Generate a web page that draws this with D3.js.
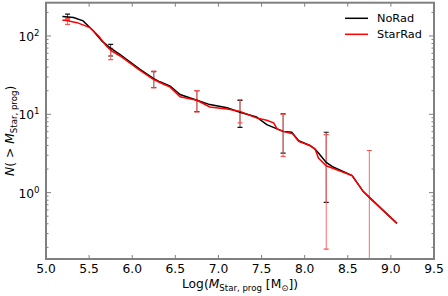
<!DOCTYPE html>
<html>
<head>
<meta charset="utf-8">
<script src="https://cdn.jsdelivr.net/npm/d3@7"></script>
<style>
  body { margin: 0; background: #fff; }
  text { font-family: "DejaVu Sans", sans-serif; fill: #000; }
</style>
</head>
<body>
<div id="chart"></div>
<script>
// cumulative counts, NoRad run
var noRadMass = [5.19, 5.32, 5.43, 5.55, 5.65, 5.74, 5.86, 6.09, 6.245, 6.32, 6.44, 6.555, 6.75, 6.9, 7.1, 7.25, 7.44, 7.56, 7.75, 7.85, 7.93, 8.06, 8.12, 8.16, 8.25, 8.33, 8.55, 8.68, 8.75, 9.07];
var noRadN    = [177, 172, 156, 116, 86, 71, 58, 37.4, 28.7, 26, 22.9, 17.9, 15.1, 13.3, 12.1, 10.6, 9.26, 7.38, 6.05, 5.9, 4.6, 4.0, 3.6, 3.2, 2.43, 2.12, 1.65, 1.03, 0.87, 0.405];

// cumulative counts, StarRad run
var starRadMass = [5.19, 5.22, 5.36, 5.51, 5.61, 5.70, 5.76, 5.86, 6.09, 6.245, 6.32, 6.44, 6.555, 6.75, 6.9, 7.1, 7.25, 7.44, 7.56, 7.64, 7.68, 7.75, 7.86, 7.93, 8.06, 8.12, 8.16, 8.25, 8.55, 8.68, 8.75, 9.07];
var starRadN    = [159, 159, 148, 128, 100, 74.5, 64.5, 55.5, 36.3, 28, 25.5, 22.2, 16.7, 15.1, 12.4, 11.7, 10.9, 9.0, 8.4, 7.76, 6.5, 6.05, 5.66, 4.5, 4.0, 3.6, 2.76, 2.2, 1.65, 1.03, 0.87, 0.405];

// error bars at the bin centres
var errMass   = [5.25, 5.75, 6.25, 6.75, 7.25, 7.75, 8.25];
var noRadLo   = [160, 55.5, 22, 10.8, 6.8, 3.2, 0.75];
var noRadHi   = [190, 78, 35, 20, 15, 10.1, 5.9];
var errMassSR = [5.25, 5.75, 6.25, 6.75, 7.25, 7.75, 8.25, 8.75];
var starRadLo = [141, 50, 21.8, 10.7, 7.76, 2.9, 0.19, 0.01];
var starRadHi = [168, 69.5, 35.6, 20, 15.4, 10, 5.5, 3.45];

var xTicks = [5.0, 5.5, 6.0, 6.5, 7.0, 7.5, 8.0, 8.5, 9.0, 9.5];
var yTicks = [1, 10, 100];

var W = 448, H = 296;
var pl = 46, pr = 434, pt = 2.7, pb = 259;

var svg = d3.select("#chart").append("svg")
    .attr("width", W)
    .attr("height", H);

var x = d3.scaleLinear().domain([5.0, 9.5]).range([pl, pr]);
var y = d3.scaleLog().domain([0.142, 266]).range([pb, pt]);

svg.append("clipPath").attr("id", "clip")
    .append("rect")
    .attr("x", pl).attr("y", pt)
    .attr("width", pr - pl).attr("height", pb - pt);

var plot = svg.append("g").attr("clip-path", "url(#clip)");

// error bars
function drawBars(ms, lo, hi, color, capColor) {
    var g = plot.append("g");
    ms.forEach(function (m, i) {
        g.append("line")
            .attr("x1", x(m)).attr("x2", x(m))
            .attr("y1", y(lo[i])).attr("y2", y(hi[i]))
            .style("stroke", color).style("stroke-width", 1);
        [lo[i], hi[i]].forEach(function (v) {
            g.append("line")
                .attr("x1", x(m) - 2.5).attr("x2", x(m) + 2.5)
                .attr("y1", y(v)).attr("y2", y(v))
                .style("stroke", capColor).style("stroke-width", 1.2);
        });
    });
}
drawBars(errMass, noRadLo, noRadHi, "#444", "#111");
drawBars(errMassSR, starRadLo, starRadHi, "#ff6a6a", "#ff5050");

var line = d3.line()
    .x(function (d) { return x(d[0]); })
    .y(function (d) { return y(d[1]); });

plot.append("path")
    .datum(d3.zip(noRadMass, noRadN))
    .attr("d", line)
    .style("fill", "none").style("stroke", "#000").style("stroke-width", 1.5);

plot.append("path")
    .datum(d3.zip(starRadMass, starRadN))
    .attr("d", line)
    .style("fill", "none").style("stroke", "#ff0000").style("stroke-width", 1.5);

// frame
var axisColor = "#808080";
svg.append("rect")
    .attr("x", pl).attr("y", pt)
    .attr("width", pr - pl).attr("height", pb - pt)
    .style("fill", "none").style("stroke", axisColor).style("stroke-width", 2);

// ticks, pointing inwards on all four sides
var ticks = svg.append("g").style("stroke", axisColor).style("stroke-width", 1);
xTicks.forEach(function (t) {
    ticks.append("line").attr("x1", x(t)).attr("x2", x(t)).attr("y1", pb).attr("y2", pb - 4);
    ticks.append("line").attr("x1", x(t)).attr("x2", x(t)).attr("y1", pt).attr("y2", pt + 4);
});
var minor = [];
[0.1, 1, 10, 100].forEach(function (dec) {
    for (var k = 2; k <= 9; k++) {
        var v = dec * k;
        if (v > 0.142 && v < 266) minor.push(v);
    }
});
yTicks.forEach(function (t) {
    ticks.append("line").attr("x1", pl).attr("x2", pl + 5).attr("y1", y(t)).attr("y2", y(t));
    ticks.append("line").attr("x1", pr).attr("x2", pr - 5).attr("y1", y(t)).attr("y2", y(t));
});
minor.forEach(function (t) {
    ticks.append("line").attr("x1", pl).attr("x2", pl + 2.5).attr("y1", y(t)).attr("y2", y(t));
    ticks.append("line").attr("x1", pr).attr("x2", pr - 2.5).attr("y1", y(t)).attr("y2", y(t));
});

// tick labels
svg.append("g").selectAll("text")
    .data(xTicks).enter().append("text")
    .attr("x", function (d) { return x(d); })
    .attr("y", 273)
    .attr("text-anchor", "middle")
    .style("font-size", "12.3px")
    .text(function (d) { return d.toFixed(1); });

yTicks.forEach(function (t) {
    var tx = svg.append("text")
        .attr("x", 39.5)
        .attr("y", y(t) + 5)
        .attr("text-anchor", "end")
        .style("font-size", "12.3px");
    tx.append("tspan").text("10");
    tx.append("tspan").attr("dy", -5).style("font-size", "8.6px").text(Math.round(Math.log10(t)));
});

// axis labels
var xl = svg.append("text")
    .attr("x", 240).attr("y", 288)
    .attr("text-anchor", "middle")
    .style("font-size", "12.3px");
xl.append("tspan").text("Log(");
xl.append("tspan").style("font-style", "italic").text("M");
xl.append("tspan").attr("dy", 3).style("font-size", "8.6px").text("Star, prog");
xl.append("tspan").attr("dy", -3).text(" [M");
xl.append("tspan").attr("dy", 3).style("font-size", "8.6px").text("\u2299");
xl.append("tspan").attr("dy", -3).text("])");

var yl = svg.append("text")
    .attr("transform", "translate(14," + (pt + pb) / 2 + ") rotate(-90)")
    .attr("text-anchor", "middle")
    .style("font-size", "12.3px");
yl.append("tspan").style("font-style", "italic").text("N");
yl.append("tspan").text("( > ");
yl.append("tspan").style("font-style", "italic").text("M");
yl.append("tspan").attr("dy", 3).style("font-size", "8.6px").text("Star, prog");
yl.append("tspan").attr("dy", -3).text(")");

// legend
var legendItems = [["NoRad", "#000"], ["StarRad", "#ff0000"]];
legendItems.forEach(function (d, i) {
    var ly = 18.3 + i * 16;
    svg.append("line")
        .attr("x1", 345).attr("x2", 368)
        .attr("y1", ly).attr("y2", ly)
        .style("stroke", d[1]).style("stroke-width", 1.5);
    svg.append("text")
        .attr("x", 377).attr("y", ly + 4)
        .style("font-size", "11.3px")
        .text(d[0]);
});
</script>
</body>
</html>
